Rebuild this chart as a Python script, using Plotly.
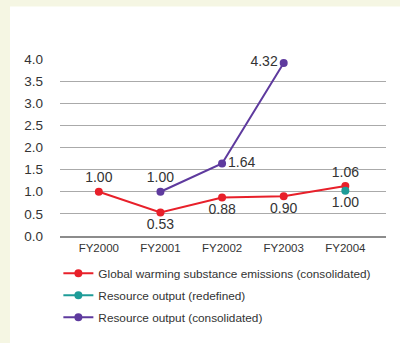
import plotly.graph_objects as go

categories = ["FY2000", "FY2001", "FY2002", "FY2003", "FY2004"]
x_pos = [0, 1, 2, 3, 4]

# Global warming substance emissions (consolidated)
ghg_values = [1.00, 0.53, 0.87, 0.90, 1.13]
ghg_labels = ["1.00", "0.53", "0.88", "0.90", "1.06"]
ghg_textpos = ["top center", "bottom center", "bottom center", "bottom center", "top center"]

# Resource output (redefined)
red_x = [4]
red_values = [1.02]
red_labels = ["1.00"]

# Resource output (consolidated)
cons_x = [1, 2, 3]
cons_values = [1.00, 1.64, 3.91]
cons_labels = ["1.00", "1.64", "4.32"]
cons_textpos = ["top center", "middle right", "middle left"]

y_ticks = [0.0, 0.5, 1.0, 1.5, 2.0, 2.5, 3.0, 3.5, 4.0]

RED = "#E8202A"
TEAL = "#1E9C98"
PURPLE = "#5E3A9E"
TXT = "#333333"
FONT = "Liberation Sans, Arial, sans-serif"

fig = go.Figure()
fig.add_trace(go.Scatter(
    x=x_pos, y=ghg_values, mode="lines+markers+text",
    name="Global warming substance emissions (consolidated)",
    line=dict(color=RED, width=2), marker=dict(color=RED, size=8),
    text=ghg_labels, textposition=ghg_textpos,
    textfont=dict(size=14, color=TXT, family=FONT), cliponaxis=False,
    legendgroup="a"))
fig.add_trace(go.Scatter(
    x=red_x, y=red_values, mode="lines+markers+text",
    name="Resource output (redefined)",
    line=dict(color=TEAL, width=2), marker=dict(color=TEAL, size=8),
    text=red_labels, textposition="bottom center",
    textfont=dict(size=14, color=TXT, family=FONT), cliponaxis=False,
    legendgroup="b"))
fig.add_trace(go.Scatter(
    x=cons_x, y=cons_values, mode="lines+markers+text",
    name="Resource output (consolidated)",
    line=dict(color=PURPLE, width=2), marker=dict(color=PURPLE, size=8),
    text=cons_labels, textposition=cons_textpos,
    textfont=dict(size=14, color=TXT, family=FONT), cliponaxis=False,
    legendgroup="c"))

fig.update_layout(
    width=400, height=343,
    margin=dict(l=60, r=14, t=59, b=107, autoexpand=False),
    paper_bgcolor="#F5F6E3",
    plot_bgcolor="rgba(0,0,0,0)",
    font=dict(family=FONT, color=TXT),
    showlegend=True,
    legend=dict(
        x=-0.005, y=-0.128, xanchor="left", yanchor="top",
        orientation="v", traceorder="grouped", tracegroupgap=3,
        font=dict(size=11.8, color=TXT, family=FONT),
        bgcolor="rgba(0,0,0,0)",
    ),
    shapes=[dict(
        type="rect", xref="paper", yref="paper",
        x0=(10 - 60) / 326, x1=1.2, y0=-0.8, y1=(236.5 - 7) / 177,
        fillcolor="white", line=dict(width=0), layer="below")],
    xaxis=dict(
        tickmode="array", tickvals=x_pos, ticktext=categories,
        range=[-0.63, 4.66], showgrid=False, zeroline=False,
        showline=True, linecolor="#8C8C8C", linewidth=2,
        tickfont=dict(size=11.5, color=TXT, family=FONT),
        ticks="", fixedrange=True),
    yaxis=dict(
        range=[0, 4.0], tickvals=y_ticks,
        ticktext=[f"{v:.1f}" for v in y_ticks],
        showgrid=True, gridcolor="#AAAAAA", gridwidth=1,
        zeroline=False, showline=False,
        tickfont=dict(size=13.5, color=TXT, family=FONT),
        ticks="", ticklabelstandoff=16, fixedrange=True),
)

fig.write_html("out.html", config={"displayModeBar": False},
               post_script="document.body.style.margin='0';")
